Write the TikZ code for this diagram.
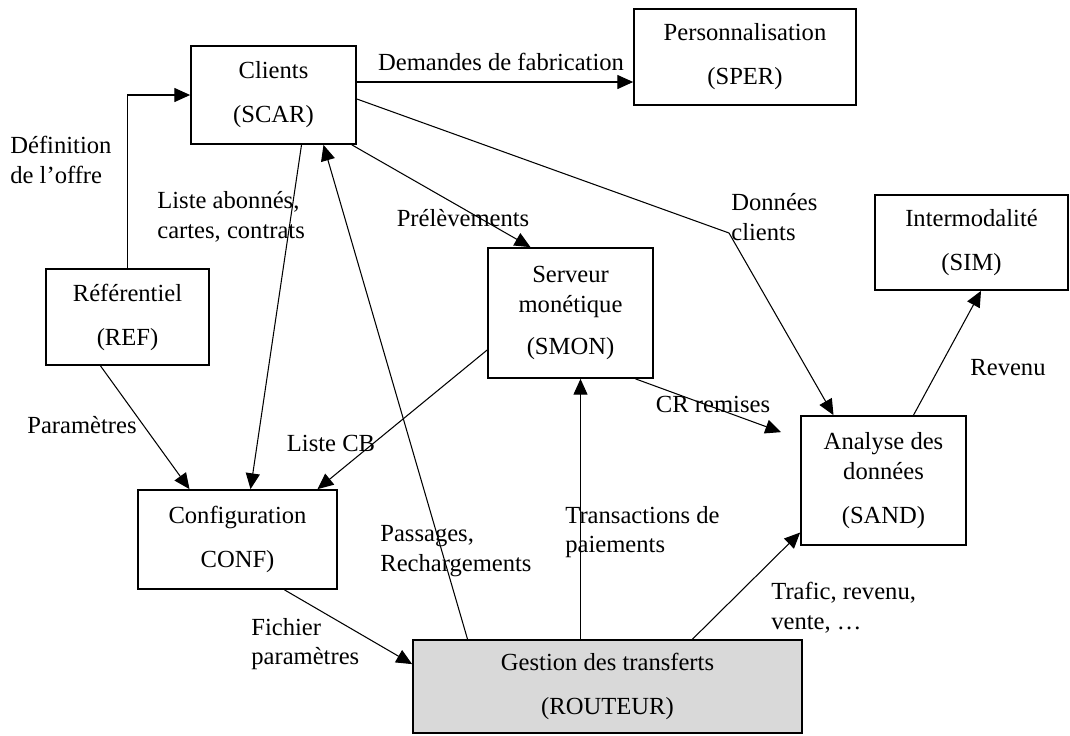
\documentclass[tikz,border=0pt]{standalone}
\usepackage{fontspec}
\setmainfont{Liberation Serif}
\usetikzlibrary{arrows.meta}
\usetikzlibrary{calc}
\definecolor{routeurgray}{RGB}{217,217,217}

\begin{document}
\begin{tikzpicture}[x=0.02cm, y=-0.02cm]
\useasboundingbox (0,0) rectangle (1070,735);
\begin{scope}[every node/.style={rectangle,draw,line width=1pt,inner sep=0pt,
                                 align=center,font=\fontsize{14}{17}\selectfont}]
    \node[minimum width=3.30cm, minimum height=1.96cm] (scar) at (273.5, 95) {Clients\\[8pt](SCAR)};
    \node[minimum width=4.44cm, minimum height=1.92cm] (sper) at (745, 57) {Personnalisation\\[8pt](SPER)};
    \node[minimum width=3.26cm, minimum height=1.92cm] (ref) at (127.5, 317) {Référentiel\\[8pt](REF)};
    \node[minimum width=3.30cm, minimum height=2.60cm] (smon) at (570.5, 313) {Serveur\\monétique\\[7pt](SMON)};
    \node[minimum width=3.86cm, minimum height=1.90cm] (sim) at (971.5, 242.5) {Intermodalité\\[8pt](SIM)};
    \node[minimum width=3.98cm, minimum height=1.98cm] (conf) at (237.5, 539.5) {Configuration\\[8pt]CONF)};
    \node[minimum width=3.30cm, minimum height=2.58cm] (sand) at (883.5, 480.5) {Analyse des\\données\\[8pt](SAND)};
    \node[minimum width=7.78cm, minimum height=1.86cm, fill=routeurgray] (routeur) at (607.5, 686.5) {Gestion des transferts\\[8pt](ROUTEUR)};
\end{scope}
\coordinate (scarbend) at (729, 233);
\begin{scope}[>={Triangle[black,length=9pt,width=8pt]},
              flow/.style={draw=black,semithick}]
    \draw [flow,->] (ref.north) |- (scar.west);
    \path [->] ($(scar.east)+(0,-13)$) edge [flow] ($(sper.west)+(0,25)$);
    \draw [flow,->] ($(scar.east)+(0,4)$) -- (scarbend) -- ($(sand.north)+(-50,0)$);
    \path [->] ($(scar.south east)+(-5,0)$) edge [flow] ($(smon.north)+(-40,0)$);
    \path [->] ($(scar.south)+(28,0)$) edge [flow] ($(conf.north)+(13,0)$);
    \path [->] ($(routeur.north)+(-140,0)$) edge [flow] ($(scar.south)+(50,0)$);
    \path [->] ($(ref.south)+(-27,0)$) edge [flow] ($(conf.north)+(-48,0)$);
    \path [->] ($(smon.west)+(0,37)$) edge [flow] ($(conf.north)+(80,0)$);
    \path [->] ($(conf.south)+(47,0)$) edge [flow] ($(routeur.north west)+(0,25)$);
    \path [->] ($(routeur.north)+(-27,0)$) edge [flow] ($(smon.south)+(10,0)$);
    \path [->] ($(smon.south)+(65,0)$) edge [flow] ($(sand.north west)+(-19,17)$);
    \path [->] ($(routeur.north)+(85,0)$) edge [flow] ($(sand.west)+(0,52)$);
    \path [->] ($(sand.north)+(30,0)$) edge [flow] ($(sim.south)+(9.5,0)$);
\end{scope}
\begin{scope}[every node/.style={inner sep=0pt,align=left,font=\fontsize{14}{17}\selectfont}]
    \node[anchor=west] (lbloffre) at (10, 160) {Définition\\de l'offre};
    \node (lblfab) at (501, 62) {Demandes de fabrication};
    \node[anchor=west] (lblliste) at (157, 217) {Liste abonnés,\\cartes, contrats};
    \node (lblprel) at (463, 218) {Prélèvements};
    \node[anchor=west] (lbldon) at (731, 217) {Données\\clients};
    \node (lblrev) at (1008, 368) {Revenu};
    \node (lblparam) at (82, 425) {Paramètres};
    \node (lblcb) at (331, 443) {Liste CB};
    \node (lblcr) at (713, 404) {CR remises};
    \node[anchor=west] (lblpass) at (380, 551) {Passages,\\Rechargements};
    \node[anchor=west] (lbltrans) at (565, 532) {Transactions de\\paiements};
    \node[anchor=west] (lblfich) at (251, 644) {Fichier\\paramètres};
    \node[anchor=west] (lbltraf) at (771, 608) {Trafic, revenu,\\vente, \ldots};
\end{scope}
\end{tikzpicture}
\end{document}
